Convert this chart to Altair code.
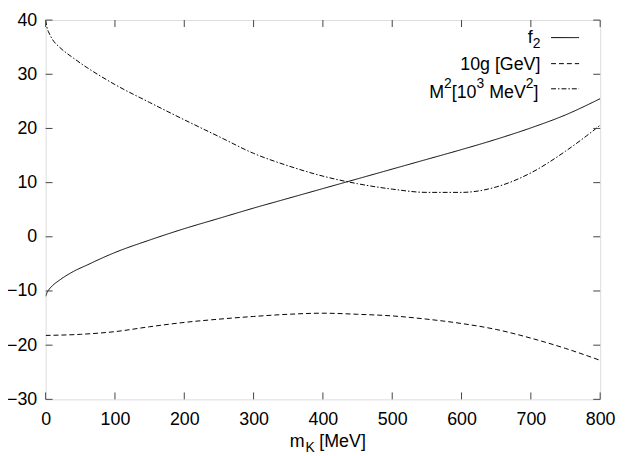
import altair as alt
import pandas as pd

# ---- data ----
mk_f2 = [0, 2, 5, 10, 20, 40, 60, 80, 100, 150, 200, 250, 300, 350, 400, 450, 500, 550, 600, 650, 700, 750, 800]
f2 = [-11.0, -10.3, -9.7, -9.0, -8.0, -6.4, -5.2, -4.0, -2.9, -0.6, 1.5, 3.4, 5.3, 7.1, 8.9, 10.7, 12.5, 14.3, 16.1, 18.0, 20.1, 22.5, 25.5]

mk_g = [0, 50, 100, 150, 200, 250, 300, 350, 400, 450, 500, 550, 600, 650, 700, 750, 800]
g10 = [-18.2, -18.0, -17.5, -16.6, -15.8, -15.2, -14.7, -14.3, -14.1, -14.3, -14.6, -15.2, -16.0, -17.1, -18.7, -20.6, -22.8]

mk_m = [0, 2, 5, 10, 20, 40, 60, 80, 100, 150, 200, 250, 300, 350, 400, 450, 500, 550, 600, 650, 700, 750, 780, 800]
m2 = [40.0, 38.6, 37.6, 36.4, 35.0, 33.0, 31.2, 29.6, 28.1, 24.8, 21.6, 18.5, 15.4, 13.1, 11.2, 9.8, 8.8, 8.2, 8.2, 9.2, 11.8, 15.8, 18.6, 20.6]

x_ticks = [0, 100, 200, 300, 400, 500, 600, 700, 800]
y_ticks = [-30, -20, -10, 0, 10, 20, 30, 40]

series_names = ["f2", "10g", "M2"]
dash_styles = [[1, 0], [5, 3], [5, 2, 1.5, 2]]

W, H = 560, 383
FONT = "Liberation Sans"
SHIFT = 2  # plot area starts 2px right of the reference's left edge

rows = []
for x, y in zip(mk_f2, f2):
    rows.append({"mk": x, "v": y, "s": "f2"})
for x, y in zip(mk_g, g10):
    rows.append({"mk": x, "v": y, "s": "10g"})
for x, y in zip(mk_m, m2):
    rows.append({"mk": x, "v": y, "s": "M2"})
df = pd.DataFrame(rows)

xs = alt.Scale(domain=[0, 800], nice=False, zero=False)
ys = alt.Scale(domain=[-30, 40], nice=False, zero=False)

dash_scale = alt.Scale(domain=series_names, range=dash_styles)

lines = alt.Chart(df).mark_line(color="black", strokeWidth=1, interpolate="monotone", clip=True).encode(
    x=alt.X("mk:Q", scale=xs,
            axis=alt.Axis(values=x_ticks, title=None, ticks=False, tickSize=0, domain=False, grid=False,
                          labelFont=FONT, labelFontSize=18, labelColor="black", labelPadding=11,
                          labelFlush=False)),
    y=alt.Y("v:Q", scale=ys,
            axis=alt.Axis(values=y_ticks, title=None, ticks=False, tickSize=0, domain=False, grid=False,
                          labelFont=FONT, labelFontSize=18, labelColor="black", labelPadding=9,
                          labelFlush=False)),
    strokeDash=alt.StrokeDash("s:N", scale=dash_scale, legend=None),
    detail="s:N",
)

xt = pd.DataFrame({"t": x_ticks})
yt = pd.DataFrame({"t": y_ticks})
TICK = 7
tick_color = "#444444"
xb = alt.Chart(xt).mark_rule(color=tick_color, strokeWidth=1).encode(
    x=alt.X("t:Q", scale=xs), y=alt.value(H), y2=alt.value(H - TICK))
xtp = alt.Chart(xt).mark_rule(color=tick_color, strokeWidth=1).encode(
    x=alt.X("t:Q", scale=xs), y=alt.value(0), y2=alt.value(TICK))
yl = alt.Chart(yt).mark_rule(color=tick_color, strokeWidth=1).encode(
    y=alt.Y("t:Q", scale=ys), x=alt.value(0), x2=alt.value(TICK))
yr = alt.Chart(yt).mark_rule(color=tick_color, strokeWidth=1).encode(
    y=alt.Y("t:Q", scale=ys), x=alt.value(W), x2=alt.value(W - TICK))


def txt(s, x, y, size=18, align="left"):
    return alt.Chart(pd.DataFrame({"t": [s]})).mark_text(
        font=FONT, fontSize=size, color="black", align=align, baseline="alphabetic"
    ).encode(text="t:N", x=alt.value(x - SHIFT), y=alt.value(y))


# legend text (plot coordinates)
RX = 501.7
legend_txt = [
    txt("f", RX - 12.8, 22.7),
    txt("2", RX - 7.8, 27.7, size=14),
    txt("10g [GeV]", RX, 50.0, align="right"),
]
# M^2[10^3 MeV^2]  (gap widths added explicitly since SVG drops leading spaces)
x0 = RX - 112.4
pieces = [("M", 18, 15.0, 0), ("2", 14, 7.8, 0), ("[10", 18, 25.0, 0), ("3", 14, 7.8, 0),
          ("MeV", 18, 37.0, 5.0), ("2", 14, 7.8, 0), ("]", 18, 5.0, 0)]
cx = x0
for s, size, w, pre in pieces:
    cx += pre
    yy = 78.4 if size == 18 else 68.4
    legend_txt.append(txt(s, cx, yy, size=size))
    cx += w

legend_lines = []
for name, yv in zip(series_names, [17.7, 44.0, 69.4]):
    legend_lines.append(
        alt.Chart(pd.DataFrame({"s": [name]})).mark_rule(color="black", strokeWidth=1).encode(
            x=alt.value(512.4 - SHIFT), x2=alt.value(540.7 - SHIFT), y=alt.value(yv),
            strokeDash=alt.StrokeDash("s:N", scale=dash_scale, legend=None))
    )

# x-axis title m_K [MeV]
title_txt = [
    txt("m", 248.4, 431),
    txt("K", 264.5, 436, size=14),
    txt("[MeV]", 278.4, 431),
]

chart = alt.layer(lines, xb, xtp, yl, yr, *legend_lines, *legend_txt, *title_txt).properties(
    width=W, height=H,
    autosize=alt.AutoSizeParams(type="none"),
    padding={"left": 38, "top": 10, "right": 18, "bottom": 55},
).configure_view(stroke="black", strokeWidth=1).configure(background="white")

chart.save("out.html", embed_options={"renderer": "svg", "actions": False})
